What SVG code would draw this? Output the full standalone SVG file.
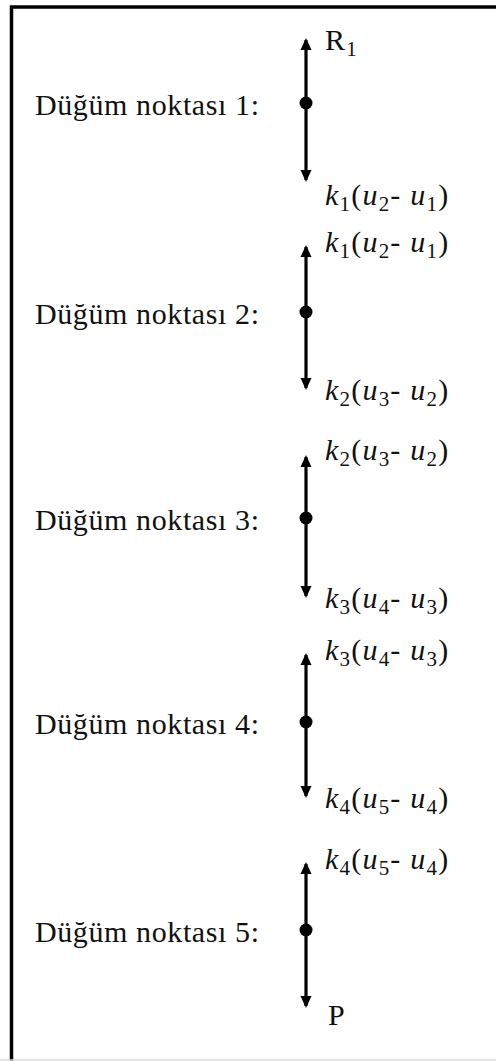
<svg xmlns="http://www.w3.org/2000/svg" width="496" height="1061" viewBox="0 0 496 1061">
<defs>
<style>
.lbl{font-family:"Liberation Serif","DejaVu Serif",serif;font-size:30px;fill:#111;letter-spacing:0.6px}
.m{font-family:"Liberation Serif","DejaVu Serif",serif;font-size:30px;fill:#111;letter-spacing:1.2px}
.i{font-style:italic}
.s{font-size:21px}
.ax{stroke:#000;stroke-width:3.2;fill:none}
</style>
<marker id="ah" viewBox="0 0 12 12" refX="10" refY="6" markerWidth="12" markerHeight="12" orient="auto-start-reverse" markerUnits="userSpaceOnUse">
<path d="M0,0.5 L12,6 L0,11.5 z" fill="#000"/>
</marker>
</defs>
<rect width="496" height="1061" fill="#fff"/>
<path d="M11.5,1061 V7 H496" fill="none" stroke="#000" stroke-width="3.5"/>
<line x1="0" y1="1060" x2="496" y2="1060" stroke="#ddd" stroke-width="1.5"/>
<g id="connectors">
<line class="ax" x1="306" y1="40" x2="306" y2="180" marker-start="url(#ah)" marker-end="url(#ah)"/>
<line class="ax" x1="306" y1="247" x2="306" y2="388" marker-start="url(#ah)" marker-end="url(#ah)"/>
<line class="ax" x1="306" y1="457" x2="306" y2="596" marker-start="url(#ah)" marker-end="url(#ah)"/>
<line class="ax" x1="306" y1="655" x2="306" y2="796" marker-start="url(#ah)" marker-end="url(#ah)"/>
<line class="ax" x1="306" y1="864" x2="306" y2="1006" marker-start="url(#ah)" marker-end="url(#ah)"/>
</g>
<g id="node1">
<circle cx="306" cy="103" r="6.5" fill="#000"/>
<text class="lbl" x="35" y="115">Düğüm noktası 1:</text>
<text class="m" x="325" y="50">R<tspan class="s" dy="6">1</tspan></text>
<text class="m" x="325" y="205"><tspan class="i">k</tspan><tspan class="s" dy="6">1</tspan><tspan dy="-6">(</tspan><tspan class="i">u</tspan><tspan class="s" dy="6">2</tspan><tspan dy="-6">- </tspan><tspan class="i">u</tspan><tspan class="s" dy="6">1</tspan><tspan dy="-6">)</tspan></text>
</g>
<g id="node2">
<circle cx="306" cy="312" r="6.5" fill="#000"/>
<text class="lbl" x="35" y="324">Düğüm noktası 2:</text>
<text class="m" x="325" y="252"><tspan class="i">k</tspan><tspan class="s" dy="6">1</tspan><tspan dy="-6">(</tspan><tspan class="i">u</tspan><tspan class="s" dy="6">2</tspan><tspan dy="-6">- </tspan><tspan class="i">u</tspan><tspan class="s" dy="6">1</tspan><tspan dy="-6">)</tspan></text>
<text class="m" x="325" y="400"><tspan class="i">k</tspan><tspan class="s" dy="6">2</tspan><tspan dy="-6">(</tspan><tspan class="i">u</tspan><tspan class="s" dy="6">3</tspan><tspan dy="-6">- </tspan><tspan class="i">u</tspan><tspan class="s" dy="6">2</tspan><tspan dy="-6">)</tspan></text>
</g>
<g id="node3">
<circle cx="306" cy="518" r="6.5" fill="#000"/>
<text class="lbl" x="35" y="530">Düğüm noktası 3:</text>
<text class="m" x="325" y="460"><tspan class="i">k</tspan><tspan class="s" dy="6">2</tspan><tspan dy="-6">(</tspan><tspan class="i">u</tspan><tspan class="s" dy="6">3</tspan><tspan dy="-6">- </tspan><tspan class="i">u</tspan><tspan class="s" dy="6">2</tspan><tspan dy="-6">)</tspan></text>
<text class="m" x="325" y="608"><tspan class="i">k</tspan><tspan class="s" dy="6">3</tspan><tspan dy="-6">(</tspan><tspan class="i">u</tspan><tspan class="s" dy="6">4</tspan><tspan dy="-6">- </tspan><tspan class="i">u</tspan><tspan class="s" dy="6">3</tspan><tspan dy="-6">)</tspan></text>
</g>
<g id="node4">
<circle cx="306" cy="722" r="6.5" fill="#000"/>
<text class="lbl" x="35" y="734">Düğüm noktası 4:</text>
<text class="m" x="325" y="660"><tspan class="i">k</tspan><tspan class="s" dy="6">3</tspan><tspan dy="-6">(</tspan><tspan class="i">u</tspan><tspan class="s" dy="6">4</tspan><tspan dy="-6">- </tspan><tspan class="i">u</tspan><tspan class="s" dy="6">3</tspan><tspan dy="-6">)</tspan></text>
<text class="m" x="325" y="808"><tspan class="i">k</tspan><tspan class="s" dy="6">4</tspan><tspan dy="-6">(</tspan><tspan class="i">u</tspan><tspan class="s" dy="6">5</tspan><tspan dy="-6">- </tspan><tspan class="i">u</tspan><tspan class="s" dy="6">4</tspan><tspan dy="-6">)</tspan></text>
</g>
<g id="node5">
<circle cx="306" cy="930" r="6.5" fill="#000"/>
<text class="lbl" x="35" y="942">Düğüm noktası 5:</text>
<text class="m" x="325" y="869"><tspan class="i">k</tspan><tspan class="s" dy="6">4</tspan><tspan dy="-6">(</tspan><tspan class="i">u</tspan><tspan class="s" dy="6">5</tspan><tspan dy="-6">- </tspan><tspan class="i">u</tspan><tspan class="s" dy="6">4</tspan><tspan dy="-6">)</tspan></text>
<text class="m" x="328" y="1025">P</text>
</g>
</svg>
